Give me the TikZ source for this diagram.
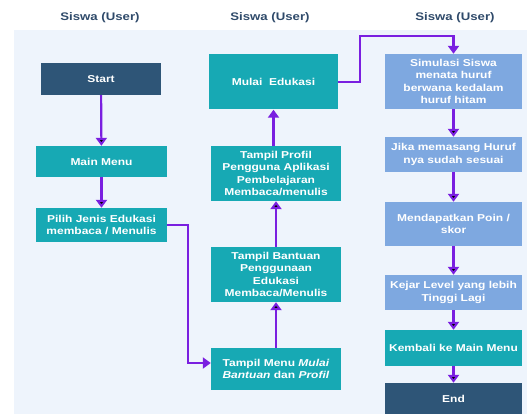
\documentclass[tikz,border=0pt]{standalone}
\usepackage{fontspec}
\setmainfont{Liberation Sans}[FakeStretch=1.2]
\usetikzlibrary{arrows.meta,positioning,shapes}
\definecolor{navy}{HTML}{2E5577}
\definecolor{tealbox}{HTML}{17A9B4}
\definecolor{bluebox}{HTML}{7EA8E0}
\definecolor{flow}{HTML}{7A1FE0}
\definecolor{panel}{HTML}{EEF4FC}
\definecolor{header}{HTML}{2F4A6A}

\begin{document}
\begin{tikzpicture}[x=1pt, y=-1pt, ->, >={Triangle[width=11pt,length=8pt]},
	box/.style={rectangle, draw=none, text=white, align=center, inner sep=1pt,
		font=\fontsize{10}{12.5}\selectfont\bfseries},
	terminal/.style={box, fill=navy},
	process/.style={box, fill=tealbox},
	game/.style={box, fill=bluebox},
	lane/.style={text=header, font=\fontsize{11}{13}\selectfont\bfseries},
	link/.style={draw=flow, line width=2.2pt}]
	\useasboundingbox (0,0) rectangle (527,414);
	\fill[panel] (14,30) rectangle (527,414);
	
	% lane headers
	\node[lane] (h1) at (100,18)  {Siswa (User)};
	\node[lane] (h2) at (270,18)  {Siswa (User)};
	\node[lane] (h3) at (455,18)  {Siswa (User)};
	
	% first column
	\node[terminal, minimum width=120pt, minimum height=32pt] (start) at (101,79) {Start};
	\node[process, minimum width=131pt, minimum height=31pt] (mainmenu) at (101.5,161.5) {Main Menu};
	\node[process, minimum width=131pt, minimum height=34pt] (pilih) at (101.5,225) {Pilih Jenis Edukasi\\membaca / Menulis};
	
	% second column
	\node[process, minimum width=129pt, minimum height=55pt] (mulai) at (273.5,82) {Mulai\ \ Edukasi};
	\node[process, minimum width=130pt, minimum height=55pt] (profil) at (276,173.5) {Tampil Profil\\Pengguna Aplikasi\\Pembelajaran\\Membaca/menulis};
	\node[process, minimum width=130pt, minimum height=55pt] (bantuan) at (276,274.5) {Tampil Bantuan\\Penggunaan\\Edukasi\\Membaca/Menulis};
	\node[process, minimum width=130pt, minimum height=42pt] (menu) at (276,369) {Tampil Menu \textit{Mulai}\\\textit{Bantuan} dan \textit{Profil}};
	
	% third column
	\node[game, minimum width=137pt, minimum height=55pt] (simulasi) at (453.5,81.5) {Simulasi Siswa\\menata huruf\\berwana kedalam\\huruf hitam};
	\node[game, minimum width=137pt, minimum height=35pt] (jika) at (453.5,154.5) {Jika memasang Huruf\\nya sudah sesuai};
	\node[game, minimum width=137pt, minimum height=44pt] (poin) at (453.5,224) {Mendapatkan Poin /\\skor};
	\node[game, minimum width=137pt, minimum height=35pt] (kejar) at (453.5,292.5) {Kejar Level yang lebih\\Tinggi Lagi};
	\node[process, minimum width=137pt, minimum height=36pt] (kembali) at (453.5,348) {Kembali ke Main Menu};
	\node[terminal, minimum width=137pt, minimum height=31pt] (end) at (453.5,398.5) {End};
	
	\coordinate (c1) at (188,225);
	\coordinate (c2) at (188,363);
	\coordinate (c3) at (360,82);
	\coordinate (c4) at (360,36);
	\coordinate (c5) at (453.5,36);
	
	\path[link]
	(start) edge (mainmenu)
	(mainmenu) edge (pilih)
	(menu) edge (bantuan)
	(bantuan) edge (profil)
	(simulasi) edge (jika)
	(jika) edge (poin)
	(poin) edge (kejar)
	(kejar) edge (kembali)
	(kembali) edge (end);
	\draw[link] (profil.north -| mulai.south) -- (mulai.south);
	\draw[link] (pilih.east) -- (c1) -- (c2) -- (c2 -| menu.west);
	\draw[link] (mulai.east |- c3) -- (c3) -- (c4) -- (c5) -- (simulasi.north);
\end{tikzpicture}
\end{document}
